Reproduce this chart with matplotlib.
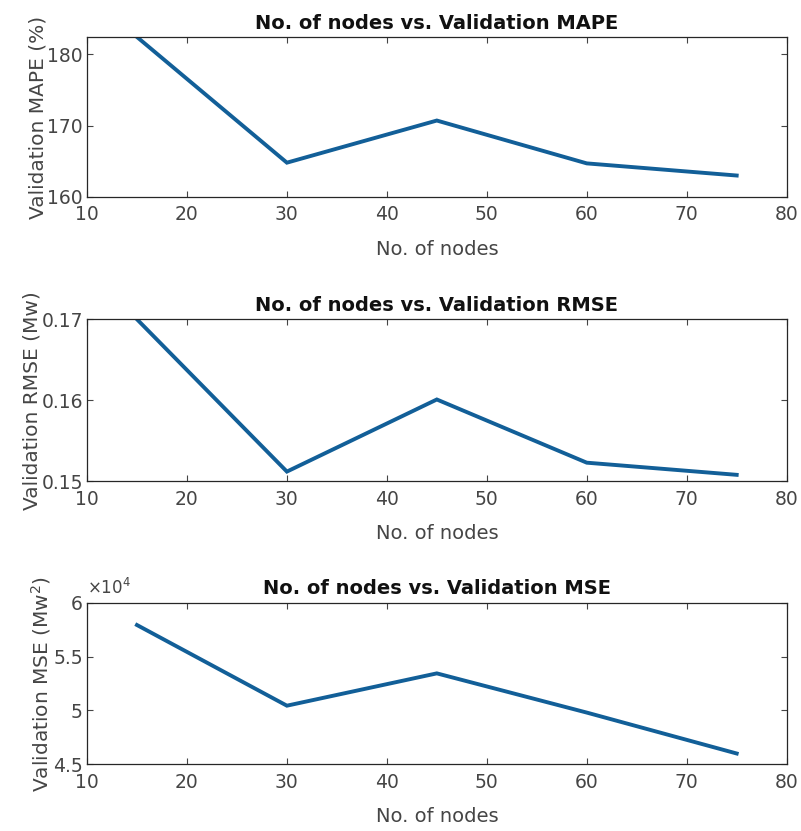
import matplotlib
matplotlib.use("Agg")
import matplotlib.pyplot as plt
from matplotlib.ticker import FuncFormatter

# number of hidden nodes tried
nodes = [15, 30, 45, 60, 75]

# validation errors for each node count
mape = [182.4, 164.8, 170.7, 164.7, 163.0]
rmse = [0.1700, 0.1512, 0.1601, 0.1523, 0.1508]
mse = [57930, 50440, 53440, 49800, 46000]

titles = ['No. of nodes vs. Validation MAPE',
          'No. of nodes vs. Validation RMSE',
          'No. of nodes vs. Validation MSE']
ylabels = ['Validation MAPE (%)', 'Validation RMSE (Mw)', 'Validation MSE (Mw$^2$)']
ylims = [(160, 182.4), (0.15, 0.17), (45000, 60000)]
yticks = [[160, 170, 180], [0.15, 0.16, 0.17], [45000, 50000, 55000, 60000]]
xticks = [10, 20, 30, 40, 50, 60, 70, 80]

plt.rcParams['font.family'] = ['DejaVu Sans']
plt.rcParams['mathtext.fontset'] = 'dejavusans'

gray = '#454545'
blue = '#125f98'

fig = plt.figure(figsize=(8.01, 8.31), dpi=100)
# [left, bottom, width, height] for each subplot
boxes = [[0.1086, 0.763, 0.8735, 0.1925],
         [0.1086, 0.4208, 0.8735, 0.195],
         [0.1086, 0.0803, 0.8735, 0.1944]]
series = [mape, rmse, mse]

for i in range(3):
    ax = fig.add_axes(boxes[i])
    ax.plot(nodes, series[i], color=blue, lw=2.8, solid_joinstyle='miter')
    ax.set_xlim(10, 80)
    ax.set_ylim(*ylims[i])
    ax.set_xticks(xticks)
    ax.set_yticks(yticks[i])
    ax.tick_params(direction='in', top=True, right=True, length=4, width=0.8,
                   labelsize=13.5, colors=gray)
    ax.tick_params(axis='x', pad=6)
    ax.tick_params(axis='y', pad=3)
    for s in ax.spines.values():
        s.set_color('#262626')
        s.set_linewidth(0.9)
    ax.set_title(titles[i], fontsize=14, fontweight='bold', color='#111111', pad=6)
    ax.set_xlabel('No. of nodes', fontsize=14, color=gray, labelpad=11)
    ax.set_ylabel(ylabels[i], fontsize=14.5, color=gray, labelpad=0)
    if i == 1:
        ax.yaxis.set_major_formatter(FuncFormatter(lambda v, p: '%.2f' % v))
    if i == 2:
        ax.yaxis.set_major_formatter(FuncFormatter(lambda v, p: '%g' % (v / 1e4)))
        ax.text(0.0, 1.03, r'$\times10^4$', transform=ax.transAxes, fontsize=12,
                color=gray, ha='left', va='bottom')

fig.savefig('out.png', dpi=100)
